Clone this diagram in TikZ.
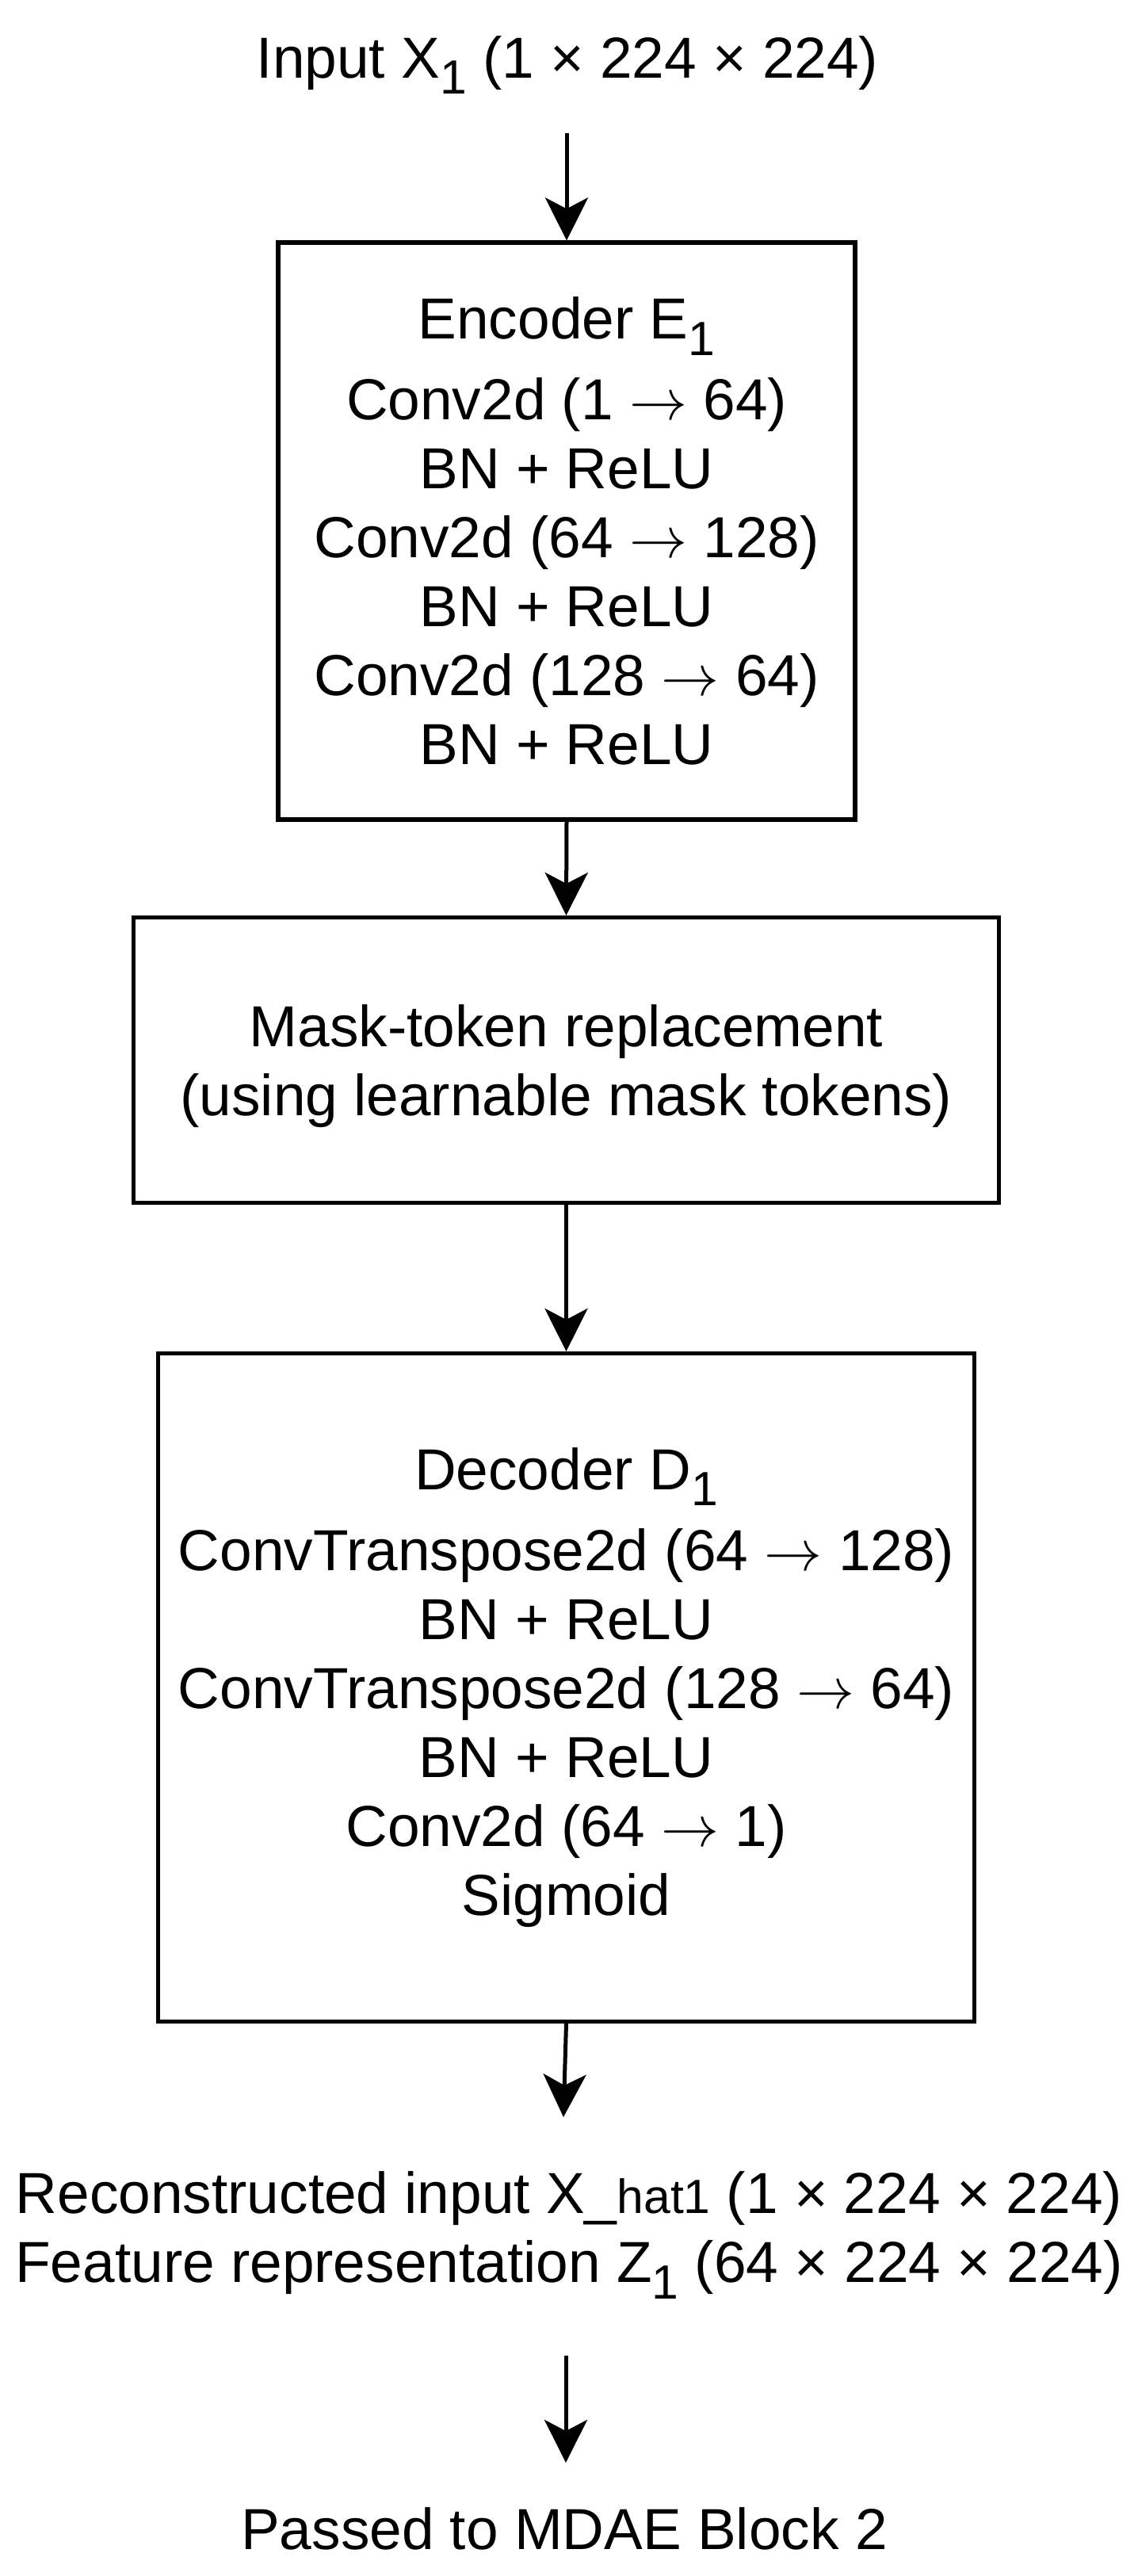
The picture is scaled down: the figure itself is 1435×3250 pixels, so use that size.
\RequirePackage{fix-cm}
\documentclass[tikz,border=0pt]{standalone}
\usepackage{fontspec}
\setmainfont{Liberation Sans}
\usetikzlibrary{arrows.meta}
\newcommand{\lowidx}[1]{\raisebox{-0.28em}{\fontsize{30.3}{30}\selectfont #1}}
\newcommand{\smallidx}[1]{{\fontsize{30.3}{30}\selectfont #1}}
\newcommand{\toarr}{$\rightarrow$}
\begin{document}
\begin{tikzpicture}[x=0.5pt,y=-0.5pt,
  box/.style={draw=black, line width=2.6pt, fill=white, inner sep=0pt, align=center,
    font=\fontsize{36.5}{43.5}\selectfont},
  lbl/.style={inner sep=0pt, align=center, font=\fontsize{36.5}{43.5}\selectfont},
  arr/.style={draw=black, line width=2.5pt, -{Stealth[length=27pt,width=27pt,inset=7pt]}}]
\useasboundingbox (0,0) rectangle (1435,3250);

\node[lbl, anchor=base] (inp) at (716,98) {Input X\lowidx{1} (1 × 224 × 224)};

\node[box, minimum width=364pt, minimum height=364pt] (enc) at (715,670)
  {Encoder E\lowidx{1}\\[7.5pt]
   Conv2d (1 \toarr{} 64)\\
   BN + ReLU\\
   Conv2d (64 \toarr{} 128)\\
   BN + ReLU\\
   Conv2d (128 \toarr{} 64)\\
   BN + ReLU};

\node[box, minimum width=546pt, minimum height=180pt, text depth=0pt] (mask) at (714.5,1337.5)
  {Mask-token replacement\\
   (using learnable mask tokens)};

\node[box, minimum width=515pt, minimum height=421.5pt] (dec) at (714.5,2129)
  {Decoder D\lowidx{1}\\[7.5pt]
   ConvTranspose2d (64 \toarr{} 128)\\
   BN + ReLU\\
   ConvTranspose2d (128 \toarr{} 64)\\
   BN + ReLU\\
   Conv2d (64 \toarr{} 1)\\
   Sigmoid};

\node[lbl] (out) at (718,2820)
  {Reconstructed input X\_\smallidx{hat1} (1 × 224 × 224)\\
   Feature representation Z\lowidx{1} (64 × 224 × 224)};

\node[lbl, anchor=base] (pass) at (712,3216) {Passed to MDAE Block 2};

\coordinate (a1s) at (715,168);
\coordinate (a4e) at (711,2671);
\coordinate (a5s) at (714,2972);
\coordinate (a5e) at (714,3107);

\draw[arr] (a1s) -- (enc.north);
\draw[arr] (enc.south) -- (mask.north);
\draw[arr] (mask.south) -- (dec.north);
\draw[arr] (dec.south) -- (a4e);
\draw[arr] (a5s) -- (a5e);
\end{tikzpicture}
\end{document}
